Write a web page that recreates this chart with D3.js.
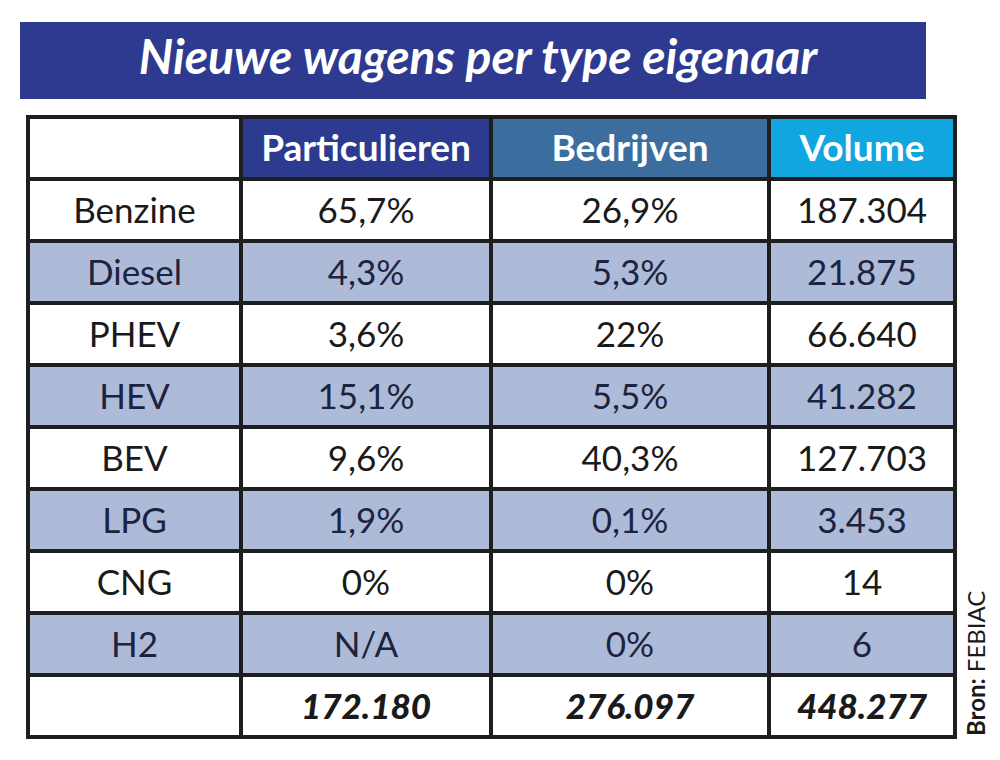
<!DOCTYPE html>
<html>
<head>
<meta charset="utf-8">
<script src="https://cdn.jsdelivr.net/npm/d3@7"></script>
<style>
  html, body { margin: 0; padding: 0; background: #ffffff; }
  svg { display: block; }
</style>
</head>
<body>
<div id="chart"></div>
<script>
// ---- data ----
const title = "Nieuwe wagens per type eigenaar";
const columns = ["Particulieren", "Bedrijven", "Volume"];
const categories = ["Benzine", "Diesel", "PHEV", "HEV", "BEV", "LPG", "CNG", "H2"];
const particulieren = [65.7, 4.3, 3.6, 15.1, 9.6, 1.9, 0, null];
const bedrijven = [26.9, 5.3, 22, 5.5, 40.3, 0.1, 0, 0];
const volume = [187304, 21875, 66640, 41282, 127703, 3453, 14, 6];
const totals = [172180, 276097, 448277];
const source = ["Bron:", " FEBIAC"];

// ---- layout ----
const W = 1000, H = 760;
const font = "Lato, 'Open Sans', sans-serif";
const headerColors = ["#ffffff", "#2c3a8f", "#3b6e9f", "#12a6e0"];
const shade = "#aebbd8";
const colEdges = [28, 241, 491, 769, 955];
const tableTop = 117, tableBottom = 737;

const nl = d3.formatLocale({decimal: ",", thousands: ".", grouping: [3], currency: ["€", ""]});
const fmtPct = v => v == null ? "N/A" : nl.format(".1~f")(v) + "%";
const fmtInt = nl.format(",d");

const rowKeys = ["header", ...categories, "total"];
const y = d3.scaleBand().domain(rowKeys).range([tableTop, tableBottom]).paddingInner(0);
const colKeys = ["label", ...columns];
const xLeft = d3.scaleOrdinal().domain(colKeys).range(colEdges.slice(0, 4));
const xRight = d3.scaleOrdinal().domain(colKeys).range(colEdges.slice(1));
const xMid = k => (xLeft(k) + xRight(k)) / 2;

const svg = d3.select("#chart").append("svg").attr("width", W).attr("height", H);

// title banner
svg.append("rect").attr("x", 20).attr("y", 22).attr("width", 906).attr("height", 77).attr("fill", "#2d3a8f");
svg.append("text").attr("x", 478).attr("y", 74).attr("text-anchor", "middle")
  .attr("font-family", font).attr("font-weight", 700).attr("font-style", "italic")
  .attr("font-size", 48).attr("fill", "#ffffff").text(title);

// build cell list
const cells = [];
colKeys.forEach((c, ci) => {
  cells.push({row: "header", col: c, text: ci === 0 ? "" : c, fill: headerColors[ci], color: "#ffffff", weight: 700, italic: false, size: 37});
});
categories.forEach((cat, i) => {
  const fill = i % 2 === 1 ? shade : "#ffffff";
  const color = i % 2 === 1 ? "#1c2340" : "#1a1a1a";
  cells.push({row: cat, col: "label", text: cat, fill, color, weight: 400, italic: false, size: 35});
  cells.push({row: cat, col: columns[0], text: fmtPct(particulieren[i]), fill, color, weight: 400, italic: false, size: 35});
  cells.push({row: cat, col: columns[1], text: fmtPct(bedrijven[i]), fill, color, weight: 400, italic: false, size: 35});
  cells.push({row: cat, col: columns[2], text: fmtInt(volume[i]), fill, color, weight: 400, italic: false, size: 35});
});
cells.push({row: "total", col: "label", text: "", fill: "#ffffff", color: "#1a1a1a", weight: 700, italic: true, size: 35});
columns.forEach((c, i) => {
  cells.push({row: "total", col: c, text: fmtInt(totals[i]), fill: "#ffffff", color: "#1a1a1a", weight: 900, italic: true, size: 35});
});

const g = svg.append("g");
g.selectAll("rect.cell").data(cells).join("rect").attr("class", "cell")
  .attr("x", d => xLeft(d.col)).attr("y", d => y(d.row))
  .attr("width", d => xRight(d.col) - xLeft(d.col)).attr("height", y.bandwidth())
  .attr("fill", d => d.fill).attr("stroke", "#1e1e1e").attr("stroke-width", 4);

g.selectAll("text.cell").data(cells).join("text").attr("class", "cell")
  .attr("x", d => xMid(d.col)).attr("y", d => y(d.row) + y.bandwidth() / 2 + 13)
  .attr("text-anchor", "middle")
  .attr("font-family", font).attr("font-size", d => d.size)
  .attr("font-weight", d => d.weight).attr("font-style", d => d.italic ? "italic" : "normal")
  .attr("fill", d => d.color).text(d => d.text);

// outer border
svg.append("rect").attr("x", colEdges[0]).attr("y", tableTop)
  .attr("width", colEdges[4] - colEdges[0]).attr("height", tableBottom - tableTop)
  .attr("fill", "none").attr("stroke", "#1e1e1e").attr("stroke-width", 4);

// source
const src = svg.append("text").attr("transform", "translate(985,736) rotate(-90)")
  .attr("font-family", font).attr("font-size", 24).attr("fill", "#1a1a1a");
src.append("tspan").attr("font-weight", 700).text(source[0]);
src.append("tspan").text(source[1]);
</script>
</body>
</html>
